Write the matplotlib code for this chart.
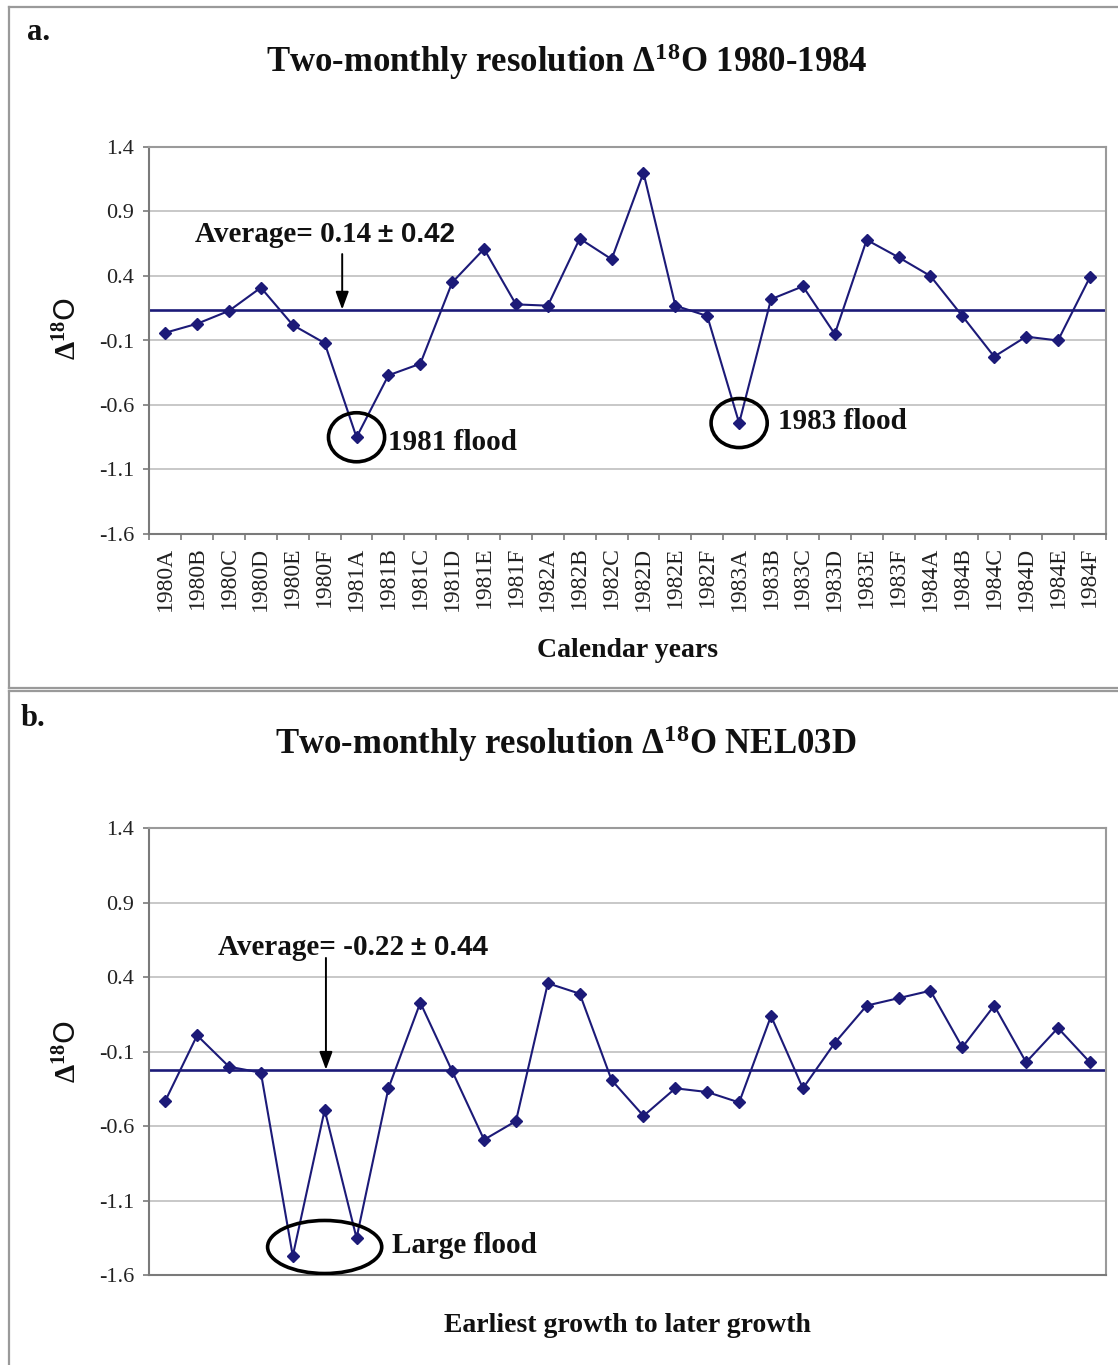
import numpy as np
import matplotlib
matplotlib.use("Agg")
import matplotlib.pyplot as plt
from matplotlib.patches import Ellipse
from matplotlib.lines import Line2D

plt.rcParams["mathtext.fontset"] = "custom"
plt.rcParams["mathtext.rm"] = "Liberation Serif:bold"
plt.rcParams["mathtext.it"] = "Liberation Serif:bold"
plt.rcParams["mathtext.bf"] = "Liberation Serif:bold"
plt.rcParams["mathtext.default"] = "rm"
plt.rcParams["axes.unicode_minus"] = False

SERIF = "Liberation Serif"
SANS = "Liberation Sans"
NAVY = "#1c1a78"
GRID = "#c4c4c4"
SPINE = "#7a7a7a"

# ---- data ---------------------------------------------------------------
periods = ["1980A", "1980B", "1980C", "1980D", "1980E", "1980F",
           "1981A", "1981B", "1981C", "1981D", "1981E", "1981F",
           "1982A", "1982B", "1982C", "1982D", "1982E", "1982F",
           "1983A", "1983B", "1983C", "1983D", "1983E", "1983F",
           "1984A", "1984B", "1984C", "1984D", "1984E", "1984F"]
d18o_calendar = [-0.04, 0.03, 0.13, 0.31, 0.02, -0.12,
                 -0.85, -0.37, -0.28, 0.35, 0.61, 0.18,
                 0.17, 0.69, 0.53, 1.20, 0.17, 0.09,
                 -0.74, 0.22, 0.32, -0.05, 0.68, 0.545,
                 0.40, 0.09, -0.225, -0.07, -0.10, 0.39]
mean_calendar = 0.14
sd_calendar = 0.42

d18o_nel03d = [-0.43, 0.01, -0.20, -0.24, -1.47, -0.49,
               -1.35, -0.345, 0.23, -0.23, -0.69, -0.565,
               0.36, 0.29, -0.29, -0.53, -0.345, -0.37,
               -0.44, 0.14, -0.345, -0.04, 0.21, 0.26,
               0.31, -0.07, 0.21, -0.17, 0.06, -0.17]
mean_nel03d = -0.22
sd_nel03d = 0.44

y_ticks = [-1.6, -1.1, -0.6, -0.1, 0.4, 0.9, 1.4]

# ---- figure -------------------------------------------------------------
W, H = 1118, 1365
fig = plt.figure(figsize=(W / 100, H / 100), dpi=100)


def fx(px):
    return px / W


def fy(py):
    return 1 - py / H


def frame_line(x0, y0, x1, y1):
    fig.add_artist(Line2D([fx(x0), fx(x1)], [fy(y0), fy(y1)],
                          transform=fig.transFigure, color="#9a9a9a",
                          lw=1.6, clip_on=False))


# outer panel frames
frame_line(9, 7, 1125, 7)
frame_line(9, 7, 9, 688)
frame_line(9, 688, 1125, 688)
frame_line(9, 690.5, 1125, 690.5)
frame_line(9, 690.5, 9, 1370)

ax_a = fig.add_axes([fx(149.3), fy(534), fx(1105.8) - fx(149.3), (534 - 147) / H])
ax_b = fig.add_axes([fx(149.3), fy(1275.3), fx(1105.8) - fx(149.3), (1275.3 - 828.3) / H])


def style_axes(ax):
    ax.set_xlim(-0.5, len(periods) - 0.5)
    ax.set_ylim(-1.6, 1.4)
    ax.set_yticks(y_ticks)
    ax.set_yticklabels([f"{v:.1f}" for v in y_ticks], fontfamily=SERIF,
                       fontsize=16, color="#222222")
    ax.tick_params(axis="y", direction="out", length=4, width=1.2,
                   color=SPINE, pad=7)
    ax.yaxis.grid(True, color=GRID, lw=1.3)
    ax.set_axisbelow(True)
    for s in ax.spines.values():
        s.set_color(SPINE)
        s.set_linewidth(1.5)
    ax.spines["top"].set_color("#9a9a9a")
    ax.spines["right"].set_color("#9a9a9a")


def draw_series(ax, values, mean):
    x = np.arange(len(values))
    ax.axhline(mean, color=NAVY, lw=1.9, zorder=2)
    ax.plot(x, values, color=NAVY, lw=1.5, marker="D", markersize=6.5,
            markerfacecolor=NAVY, markeredgecolor=NAVY, zorder=3)


def average_label(ax, x, y, mean, sd):
    t1 = ax.text(x, y, f"Average= {mean:.2f}", fontfamily=SERIF,
                 fontweight="bold", fontsize=21, ha="left", va="center",
                 color="#111111")
    ax.annotate(f"\u00b1 {sd:.2f}", xy=(1, 0.5), xycoords=t1,
                xytext=(5, 0), textcoords="offset points",
                fontfamily=SANS, fontweight="bold", fontsize=20,
                ha="left", va="center", color="#111111")


def down_arrow(ax, x, y_from, y_to):
    ax.annotate("", xy=(x, y_to), xytext=(x, y_from),
                arrowprops=dict(arrowstyle="-|>,head_length=0.6,head_width=0.22",
                                mutation_scale=18, color="black", lw=1.4,
                                shrinkA=0, shrinkB=0), zorder=5)


# ---- panel a ------------------------------------------------------------
style_axes(ax_a)
draw_series(ax_a, d18o_calendar, mean_calendar)
ax_a.set_xticks(np.arange(-0.5, len(periods), 1.0))
ax_a.set_xticklabels([])
ax_a.tick_params(axis="x", which="major", direction="out", length=4,
                 width=1.2, color=SPINE)
ax_a.set_xticks(np.arange(len(periods)), minor=True)
ax_a.set_xticklabels(periods, minor=True, rotation=90, fontfamily=SERIF,
                     fontsize=17, color="#222222")
ax_a.tick_params(axis="x", which="minor", length=0, pad=9)

ax_a.set_xlabel("Calendar years", fontfamily=SERIF, fontweight="bold",
                fontsize=20, color="#111111")
ax_a.xaxis.set_label_coords(0.5, -0.27)
ax_a.xaxis.label.set_va("top")
ax_a.set_ylabel(r"$\Delta^{18}$O", fontsize=21, color="#111111")
ax_a.yaxis.set_label_coords(-0.07, 0.53)

average_label(ax_a, 0.93, 0.72, mean_calendar, sd_calendar)
down_arrow(ax_a, 5.55, 0.57, mean_calendar)

i81 = periods.index("1981A")
i83 = periods.index("1983A")
for i in (i81, i83):
    ax_a.add_patch(Ellipse((i, d18o_calendar[i]), 1.76, 0.38, fill=False,
                           ec="black", lw=2.6, zorder=4))
ax_a.text(7.0, -0.887, "1981 flood", fontfamily=SERIF, fontweight="bold",
          fontsize=21, ha="left", va="center", color="#111111")
ax_a.text(19.22, -0.73, "1983 flood", fontfamily=SERIF, fontweight="bold",
          fontsize=21, ha="left", va="center", color="#111111")

# ---- panel b ------------------------------------------------------------
style_axes(ax_b)
draw_series(ax_b, d18o_nel03d, mean_nel03d)
ax_b.set_xticks([])
ax_b.set_xlabel("Earliest growth to later growth", fontfamily=SERIF,
                fontweight="bold", fontsize=20, color="#111111")
ax_b.xaxis.set_label_coords(0.5, -0.085)
ax_b.xaxis.label.set_va("top")
ax_b.set_ylabel(r"$\Delta^{18}$O", fontsize=21, color="#111111")
ax_b.yaxis.set_label_coords(-0.07, 0.5)

average_label(ax_b, 1.65, 0.597, mean_nel03d, sd_nel03d)
down_arrow(ax_b, 5.04, 0.53, mean_nel03d)

ax_b.add_patch(Ellipse((5, (d18o_nel03d[4] + d18o_nel03d[6]) / 2), 3.58, 0.356,
                       fill=False, ec="black", lw=2.6, zorder=4))
ax_b.text(7.11, -1.403, "Large flood", fontfamily=SERIF, fontweight="bold",
          fontsize=21, ha="left", va="center", color="#111111")

# ---- titles and panel letters --------------------------------------------
fig.text(fx(567), fy(62), r"Two-monthly resolution $\Delta^{18}$O 1980-1984",
         fontfamily=SERIF, fontweight="bold", fontsize=25, ha="center",
         va="center", color="#111111")
fig.text(fx(566), fy(744), r"Two-monthly resolution $\Delta^{18}$O NEL03D",
         fontfamily=SERIF, fontweight="bold", fontsize=25, ha="center",
         va="center", color="#111111")
fig.text(fx(27), fy(32), "a.", fontfamily=SERIF, fontweight="bold",
         fontsize=22, ha="left", va="center", color="#111111")
fig.text(fx(21), fy(718), "b.", fontfamily=SERIF, fontweight="bold",
         fontsize=22, ha="left", va="center", color="#111111")

fig.savefig("out.png", dpi=100)
